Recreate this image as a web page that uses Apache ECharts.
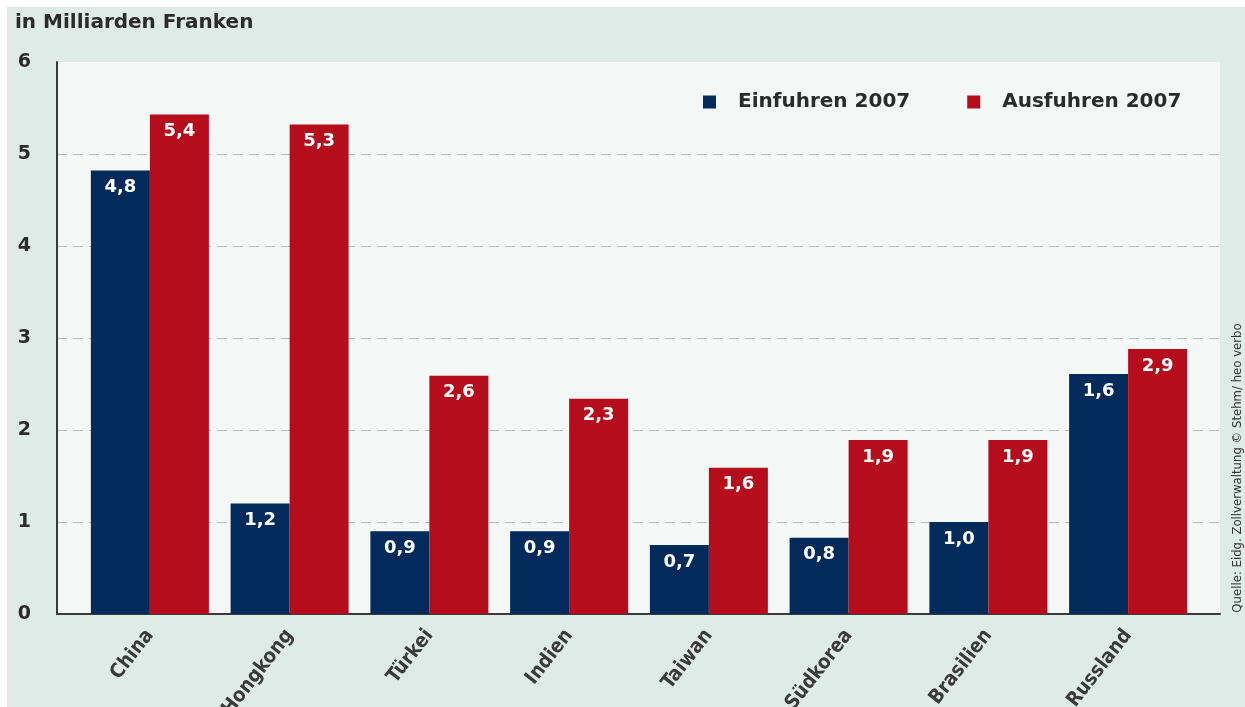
<!DOCTYPE html>
<html>
<head>
<meta charset="utf-8">
<script src="https://cdn.jsdelivr.net/npm/echarts@6/dist/echarts.min.js"></script>
<style>
html,body{margin:0;padding:0;background:#ffffff;}
#chart{position:absolute;left:7px;top:7px;width:1238px;height:700px;}
</style>
</head>
<body>
<div id="chart"></div>
<script>
const categories = ['China','Hongkong','Türkei','Indien','Taiwan','Südkorea','Brasilien','Russland'];
// bar heights as drawn in the reference
const einfuhren = [4.82, 1.20, 0.90, 0.90, 0.75, 0.83, 1.00, 2.61];
const ausfuhren = [5.43, 5.32, 2.59, 2.34, 1.59, 1.89, 1.89, 2.88];
// value labels printed on the bars
const einfuhrenLabels = ['4,8','1,2','0,9','0,9','0,7','0,8','1,0','1,6'];
const ausfuhrenLabels = ['5,4','5,3','2,6','2,3','1,6','1,9','1,9','2,9'];
const yTicks = [0,1,2,3,4,5,6];

const BLUE = '#022a5b';
const RED = '#b50d1b';
const BOLD = 'DejaVu Sans';
const NARROW = '"Liberation Sans Narrow", "DejaVu Sans Condensed", sans-serif';

const chart = echarts.init(document.getElementById('chart'));
chart.setOption({
  backgroundColor: '#deebe6',
  animation: false,
  title: {
    text: 'in Milliarden Franken',
    left: 3, top: 1,
    textStyle: {fontFamily: BOLD, fontWeight: 'bold', fontSize: 20, color: '#2b2b2b'}
  },
  legend: {
    left: 691, top: 80,
    icon: 'rect', itemWidth: 13, itemHeight: 13, itemGap: 57,
    textStyle: {fontFamily: BOLD, fontWeight: 'bold', fontSize: 20, color: '#2b2b2b', padding: [0,0,0,17]},
    data: ['Einfuhren 2007','Ausfuhren 2007']
  },
  graphic: [{
    type: 'text',
    x: 1231, y: 461,
    rotation: Math.PI / 2,
    style: {
      text: 'Quelle: Eidg. Zollverwaltung © Stehm/ heo verbo',
      font: '13px ' + NARROW,
      fill: '#333', align: 'center', verticalAlign: 'middle'
    }
  }],
  grid: [
    {left: 50, right: 25, top: 55, bottom: 93, show: true, backgroundColor: '#f3f7f6', borderWidth: 0, outerBoundsMode: 'none', containLabel: false},
    {left: 73, right: 47, top: 55, bottom: 93, outerBoundsMode: 'none', containLabel: false}
  ],
  xAxis: [
    {type: 'value', gridIndex: 0, min: 0, max: 1,
     axisLine: {show: true, lineStyle: {color: '#3a3a3a', width: 2}},
     axisTick: {show: false}, axisLabel: {show: false}, splitLine: {show: false}},
    {type: 'category', gridIndex: 1, data: categories,
     axisLine: {show: false}, axisTick: {show: false},
     axisLabel: {rotate: 52, margin: 18, fontSize: 20, fontWeight: 'bold', color: '#3a3a3a', fontFamily: NARROW}}
  ],
  yAxis: [
    {type: 'value', gridIndex: 0, min: 0, max: 6, interval: 1,
     axisLine: {show: true, lineStyle: {color: '#3a3a3a', width: 2}},
     axisTick: {show: false},
     axisLabel: {margin: 26, fontSize: 19, fontWeight: 'bold', color: '#2b2b2b', fontFamily: BOLD,
                 formatter: v => yTicks.includes(v) ? String(v) : ''},
     splitLine: {show: true, showMaxLine: false, lineStyle: {color: '#b9bdbd', type: [10, 6], width: 1.2}}},
    {type: 'value', gridIndex: 1, min: 0, max: 6, interval: 1, show: false}
  ],
  series: [
    {name: 'Einfuhren 2007', type: 'bar', xAxisIndex: 1, yAxisIndex: 1,
     data: einfuhren, barWidth: 59, barGap: '0%',
     itemStyle: {color: BLUE},
     label: {show: true, position: 'insideTop', distance: 8, color: '#fff', fontSize: 18, fontWeight: 'bold', fontFamily: BOLD,
             formatter: p => einfuhrenLabels[p.dataIndex]}},
    {name: 'Ausfuhren 2007', type: 'bar', xAxisIndex: 1, yAxisIndex: 1,
     data: ausfuhren, barWidth: 59, barGap: '0%',
     itemStyle: {color: RED},
     label: {show: true, position: 'insideTop', distance: 8, color: '#fff', fontSize: 18, fontWeight: 'bold', fontFamily: BOLD,
             formatter: p => ausfuhrenLabels[p.dataIndex]}}
  ]
});
</script>
</body>
</html>
